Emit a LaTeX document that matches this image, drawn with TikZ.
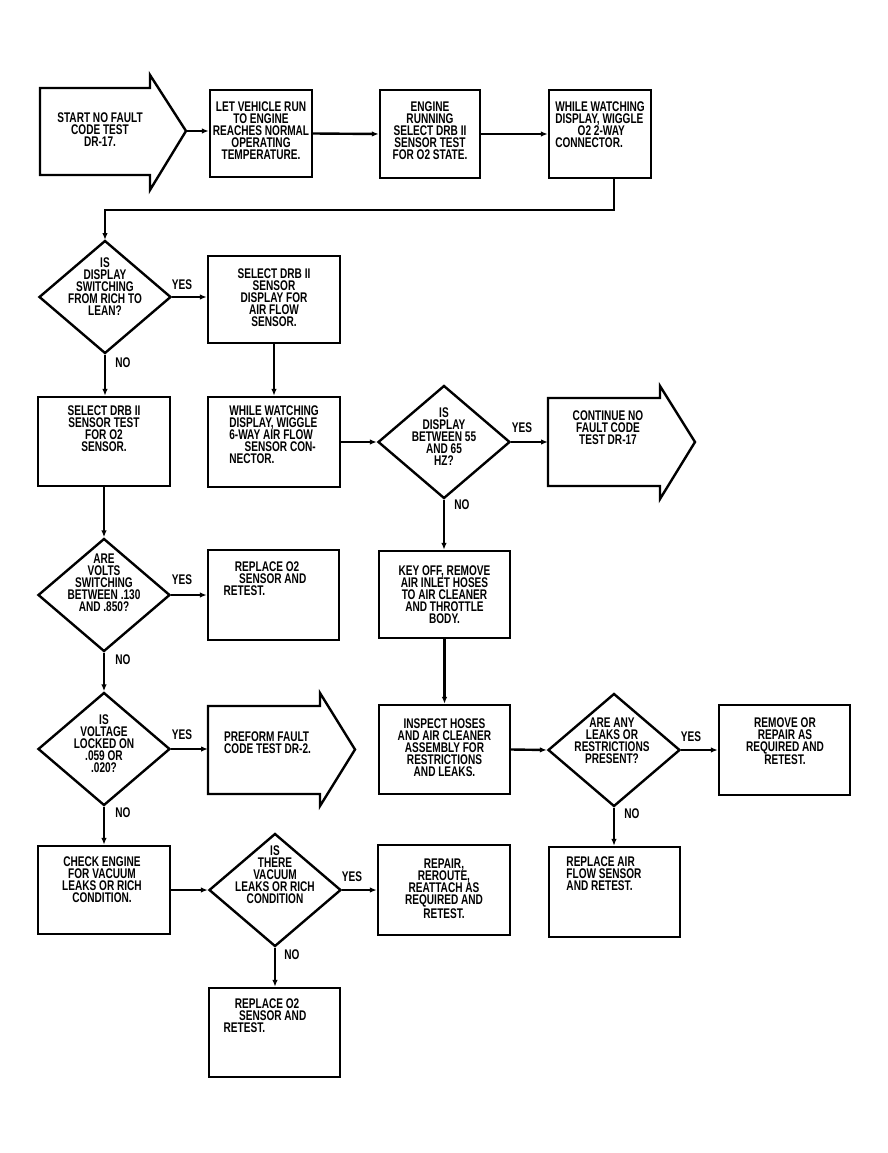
\documentclass[tikz,border=0pt]{standalone}
\usepackage{fontspec}
\setmainfont{Liberation Sans}[FakeStretch=0.72]
\usetikzlibrary{shapes.geometric,arrows.meta}
\begin{document}
\begin{tikzpicture}[x=1pt,y=-1pt,line join=miter,
  box/.style={draw,line width=2.4pt,inner sep=0pt,rectangle},
  dia/.style={draw,diamond,line width=2.4pt,inner sep=0pt,minimum width=132pt,minimum height=113pt},
  txt/.style={font=\bfseries\fontsize{14}{12}\selectfont,align=center,inner sep=0pt},
  txtl/.style={font=\bfseries\fontsize{14}{12}\selectfont,align=left,inner sep=0pt},
  lbl/.style={font=\bfseries\fontsize{14}{12}\selectfont,inner sep=0pt},
  arr/.style={line width=2.4pt,-{Latex[length=7pt,width=5.5pt]}},
  shp/.style={draw,line width=2.4pt}]
\useasboundingbox (0,0) rectangle (888,1153);
\fill[white] (0,0) rectangle (888,1153);

% ---- row 1
\draw[shp] (40,88) -- (150,88) -- (150,75) -- (186,131) -- (150,190) -- (150,175) -- (40,175) -- cycle;
\node[txt] (start) at (100,130) {START NO FAULT\\CODE TEST\\DR-17.};
\coordinate (starttip) at (186,131);

\node[box,minimum width=102pt,minimum height=87pt] (b1) at (261,133.5) {};
\node[txt] (t1) at (261,131) {LET VEHICLE RUN\\TO ENGINE\\REACHES NORMAL\\OPERATING\\TEMPERATURE.};

\node[box,minimum width=100pt,minimum height=88pt] (b2) at (430,134) {};
\node[txt] (t2) at (430,131) {ENGINE\\RUNNING\\SELECT DRB II\\SENSOR TEST\\FOR O2 STATE.};

\node[box,minimum width=102pt,minimum height=88pt] (b3) at (600,134) {};
\node[txtl] (t3) at (600,125) {WHILE WATCHING\\DISPLAY, WIGGLE\\\hspace*{1.6em}O2 2-WAY\\CONNECTOR.};

\draw[arr] (starttip) -- (b1.west |- starttip);
\draw[arr] (b1.east) -- (b2.west);
\draw[arr] (b2.east) -- (b3.west);
\coordinate (c1) at (614,210);
\draw[arr] (b3.south -| c1) -- (c1) -| (105,240);

% ---- left column
\node[dia] (d1) at (105,297) {};
\node[txt] (td1) at (105,287) {IS\\DISPLAY\\SWITCHING\\FROM RICH TO\\LEAN?};

\node[box,minimum width=132pt,minimum height=89pt] (o2) at (104,441.5) {};
\node[txt] (to2) at (104,429) {SELECT DRB II\\SENSOR TEST\\FOR O2\\SENSOR.};

\node[dia] (d4) at (104,595) {};
\node[txt] (td4) at (104,583) {ARE\\VOLTS\\SWITCHING\\BETWEEN .130\\AND .850?};

\node[dia] (d5) at (104,749) {};
\node[txt] (td5) at (104,744) {IS\\VOLTAGE\\LOCKED ON\\.059 OR\\.020?};

\node[box,minimum width=132pt,minimum height=88pt] (chk) at (104,890) {};
\node[txt] (tchk) at (102,880) {CHECK ENGINE\\FOR VACUUM\\LEAKS OR RICH\\CONDITION.};

% ---- second column
\node[box,minimum width=132pt,minimum height=87pt] (af) at (274,299.5) {};
\node[txt] (taf) at (274,298) {SELECT DRB II\\SENSOR\\DISPLAY FOR\\AIR FLOW\\SENSOR.};

\node[box,minimum width=132pt,minimum height=90pt] (wg) at (274,442) {};
\node[txtl] (twg) at (274,435) {WHILE WATCHING\\DISPLAY, WIGGLE\\6-WAY AIR FLOW\\\hspace*{1.1em}SENSOR CON-\\NECTOR.};

\node[box,minimum width=131pt,minimum height=90pt] (r1) at (273.5,595) {};
\node[txtl] (tr1) at (265,579) {\hspace*{0.8em}REPLACE O2\\\hspace*{1.1em}SENSOR AND\\RETEST.};

\draw[shp] (208,706) -- (320,706) -- (320,693) -- (355,749.5) -- (320,806) -- (320,794) -- (208,794) -- cycle;
\node[txtl,anchor=west] (pf) at (224,743) {PREFORM FAULT\\CODE TEST DR-2.};
\coordinate (pfw) at (208,749);

\node[dia] (d6) at (275,890) {};
\node[txt] (td6) at (275,875) {IS\\THERE\\VACUUM\\LEAKS OR RICH\\CONDITION};

\node[box,minimum width=131pt,minimum height=89pt] (r2) at (274.5,1032.5) {};
\node[txtl] (tr2) at (265,1016) {\hspace*{0.8em}REPLACE O2\\\hspace*{1.1em}SENSOR AND\\RETEST.};

% ---- third column
\node[dia] (d2) at (444,442) {};
\node[txt] (td2) at (444,437) {IS\\DISPLAY\\BETWEEN 55\\AND 65\\HZ?};

\node[box,minimum width=131pt,minimum height=87pt] (ko) at (444.5,594.5) {};
\node[txt] (tko) at (444.5,595) {KEY OFF, REMOVE\\AIR INLET HOSES\\TO AIR CLEANER\\AND THROTTLE\\BODY.};

\node[box,minimum width=131pt,minimum height=89pt] (ins) at (444.5,749.5) {};
\node[txt] (tins) at (444.5,748) {INSPECT HOSES\\AND AIR CLEANER\\ASSEMBLY FOR\\RESTRICTIONS\\AND LEAKS.};

\node[box,minimum width=132pt,minimum height=90pt] (rep) at (444,890) {};
\node[txt] (trep) at (444,889) {REPAIR,\\REROUTE,\\REATTACH AS\\REQUIRED AND\\RETEST.};

% ---- fourth column
\draw[shp] (548,398) -- (660,398) -- (660,386) -- (695,442) -- (660,499) -- (660,486) -- (548,486) -- cycle;
\node[txt] (cont) at (608,428) {CONTINUE NO\\FAULT CODE\\TEST DR-17};
\coordinate (contw) at (548,442);

\node[dia] (d3) at (614,750) {};
\node[txt] (td3) at (612,741) {ARE ANY\\LEAKS OR\\RESTRICTIONS\\PRESENT?};

\node[box,minimum width=131pt,minimum height=90pt] (raf) at (614.5,892) {};
\node[txtl] (traf) at (604,874) {REPLACE AIR\\FLOW SENSOR\\AND RETEST.};

% ---- fifth column
\node[box,minimum width=131pt,minimum height=90pt] (rm) at (784.5,750) {};
\node[txt] (trm) at (785,741) {REMOVE OR\\REPAIR AS\\REQUIRED AND\\RETEST.};

% ---- connectors
\draw[arr] (d1.east) -- (af.west |- d1.east);
\draw[arr] (d1.south) -- (o2.north -| d1.south);
\draw[arr] (af.south) -- (wg.north);
\draw[arr] (wg.east) -- (d2.west);
\draw[arr] (d2.east) -- (contw);
\draw[arr] (d2.south) -- (ko.north -| d2.south);
\draw[arr] (ko.south) -- (ins.north);
\draw[arr] (ins.east) -- (d3.west);
\draw[arr] (d3.east) -- (rm.west |- d3.east);
\draw[arr] (d3.south) -- (raf.north -| d3.south);
\draw[arr] (o2.south) -- (d4.north);
\draw[arr] (d4.east) -- (r1.west |- d4.east);
\draw[arr] (d4.south) -- (d5.north);
\draw[arr] (d5.east) -- (pfw);
\draw[arr] (d5.south) -- (chk.north -| d5.south);
\draw[arr] (chk.east) -- (d6.west);
\draw[arr] (d6.east) -- (rep.west);
\draw[arr] (d6.south) -- (r2.north -| d6.south);

% ---- labels
\node[lbl] (y1) at (182,285) {YES};
\node[lbl] (n1) at (123,363) {NO};
\node[lbl] (y2) at (522,428) {YES};
\node[lbl] (n2) at (462,505) {NO};
\node[lbl] (y4) at (182,580) {YES};
\node[lbl] (n4) at (123,660) {NO};
\node[lbl] (y5) at (182,735) {YES};
\node[lbl] (n5) at (123,813) {NO};
\node[lbl] (y3) at (691,737) {YES};
\node[lbl] (n3) at (632,814) {NO};
\node[lbl] (y6) at (352,877) {YES};
\node[lbl] (n6) at (292,955) {NO};
\end{tikzpicture}
\end{document}
